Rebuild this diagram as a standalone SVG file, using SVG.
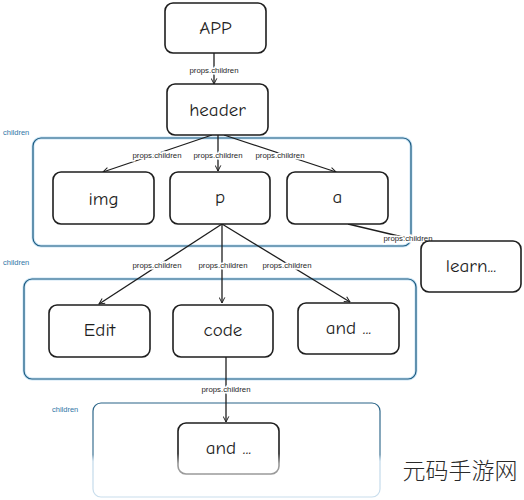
<svg xmlns="http://www.w3.org/2000/svg" width="524" height="500" viewBox="0 0 524 500">
<defs>
<marker id="ah" viewBox="0 0 10 10" refX="9" refY="5" markerWidth="7" markerHeight="7" orient="auto-start-reverse" markerUnits="userSpaceOnUse">
<path d="M1,1 L9,5 L1,9" fill="none" stroke="#1e1e1e" stroke-width="1.4"/>
</marker>
<linearGradient id="fade" x1="0" y1="0" x2="0" y2="1">
<stop offset="0" stop-color="#1c5a80" stop-opacity="0.95"/>
<stop offset="0.55" stop-color="#1c5a80" stop-opacity="0.85"/>
<stop offset="0.62" stop-color="#4a8fc0" stop-opacity="0.35"/>
<stop offset="1" stop-color="#4a8fc0" stop-opacity="0.3"/>
</linearGradient>
<linearGradient id="fadeN" x1="0" y1="0" x2="0" y2="1">
<stop offset="0" stop-color="#1e1e1e"/>
<stop offset="0.6" stop-color="#1e1e1e"/>
<stop offset="0.8" stop-color="#1e1e1e" stop-opacity="0.45"/>
<stop offset="1" stop-color="#1e1e1e" stop-opacity="0.45"/>
</linearGradient>
</defs>
<style>
.node{fill:#fff;stroke:#1e1e1e;stroke-width:1.6}
.halo{fill:none;stroke:#a9d3ee;stroke-width:3;stroke-opacity:0.6}
.grp{fill:none;stroke:#1c5a80;stroke-width:1.2}
.nt{font-family:"Comic Neue","Liberation Sans",sans-serif;font-size:19px;fill:#1e1e1e;text-anchor:middle;dominant-baseline:central}
.lbl{font-family:"Liberation Sans",sans-serif;font-size:7.8px;fill:#1e1e1e;text-anchor:middle;dominant-baseline:central;stroke:#fff;stroke-width:3;paint-order:stroke}
.gl{font-family:"Liberation Sans",sans-serif;font-size:7.5px;fill:#2f76a6;dominant-baseline:central}
.c{fill:none;stroke:#1e1e1e;stroke-width:1.3;marker-end:url(#ah)}
</style>
<rect width="524" height="500" fill="#fff"/>
<g id="groups">
<rect class="halo" x="33" y="138" width="378" height="108" rx="8"/>
<rect class="grp" x="33" y="138" width="378" height="108" rx="8"/>
<text class="gl" x="3" y="132">children</text>
<rect class="halo" x="24" y="279" width="392" height="100" rx="8"/>
<rect class="grp" x="24" y="279" width="392" height="100" rx="8"/>
<text class="gl" x="3" y="262">children</text>
<rect x="93" y="403" width="287" height="94" rx="8" fill="none" stroke="url(#fade)" stroke-width="1.2"/>
<text class="gl" x="52" y="409">children</text>
</g>
<g id="connectors">
<path class="c" d="M214,53 L214,84"/>
<path class="c" d="M212,135 L103,172"/>
<path class="c" d="M218,135 L218,171"/>
<path class="c" d="M224,135 L336,172"/>
<path class="c" d="M348,224 L470,253"/>
<path class="c" d="M222,224 L99,304"/>
<path class="c" d="M222,224 L222,303"/>
<path class="c" d="M222,224 L350,302"/>
<path class="c" d="M226,357 L226,422"/>
<text class="lbl" x="214" y="70">props.children</text>
<text class="lbl" x="157" y="155">props.children</text>
<text class="lbl" x="218" y="155">props.children</text>
<text class="lbl" x="280" y="155">props.children</text>
<text class="lbl" x="408" y="238">props.children</text>
<text class="lbl" x="157" y="265">props.children</text>
<text class="lbl" x="223" y="265">props.children</text>
<text class="lbl" x="287" y="265">props.children</text>
<text class="lbl" x="226" y="389">props.children</text>
</g>
<g id="n-app"><rect class="node" x="165" y="3" width="101" height="50" rx="8"/><text class="nt" x="215.5" y="28">APP</text></g>
<g id="n-header"><rect class="node" x="167" y="84" width="101" height="51" rx="8"/><text class="nt" x="217.5" y="110">header</text></g>
<g id="n-img"><rect class="node" x="53" y="172" width="101" height="52" rx="8"/><text class="nt" x="103.5" y="199">img</text></g>
<g id="n-p"><rect class="node" x="170" y="172" width="100" height="52" rx="8"/><text class="nt" x="220" y="197">p</text></g>
<g id="n-a"><rect class="node" x="287" y="172" width="101" height="52" rx="8"/><text class="nt" x="337.5" y="197">a</text></g>
<g id="n-learn"><rect class="node" x="421" y="241" width="100" height="51" rx="8"/><text class="nt" x="471" y="266">learn...</text></g>
<g id="n-edit"><rect class="node" x="49" y="305" width="101" height="52" rx="8"/><text class="nt" x="99.5" y="330">Edit</text></g>
<g id="n-code"><rect class="node" x="173" y="305" width="100" height="52" rx="8"/><text class="nt" x="223" y="330">code</text></g>
<g id="n-and1"><rect class="node" x="298" y="303" width="101" height="51" rx="8"/><text class="nt" x="348.5" y="328">and ...</text></g>
<g id="n-and2"><rect x="178" y="423" width="101" height="51" rx="8" fill="#fff" stroke="url(#fadeN)" stroke-width="1.6"/><text class="nt" x="228.5" y="448">and ...</text></g>
<text x="460" y="469" font-family="'Noto Sans CJK SC',sans-serif" font-size="23" fill="#2a2a2a" text-anchor="middle" dominant-baseline="central" font-weight="300">元码手游网</text>
</svg>
